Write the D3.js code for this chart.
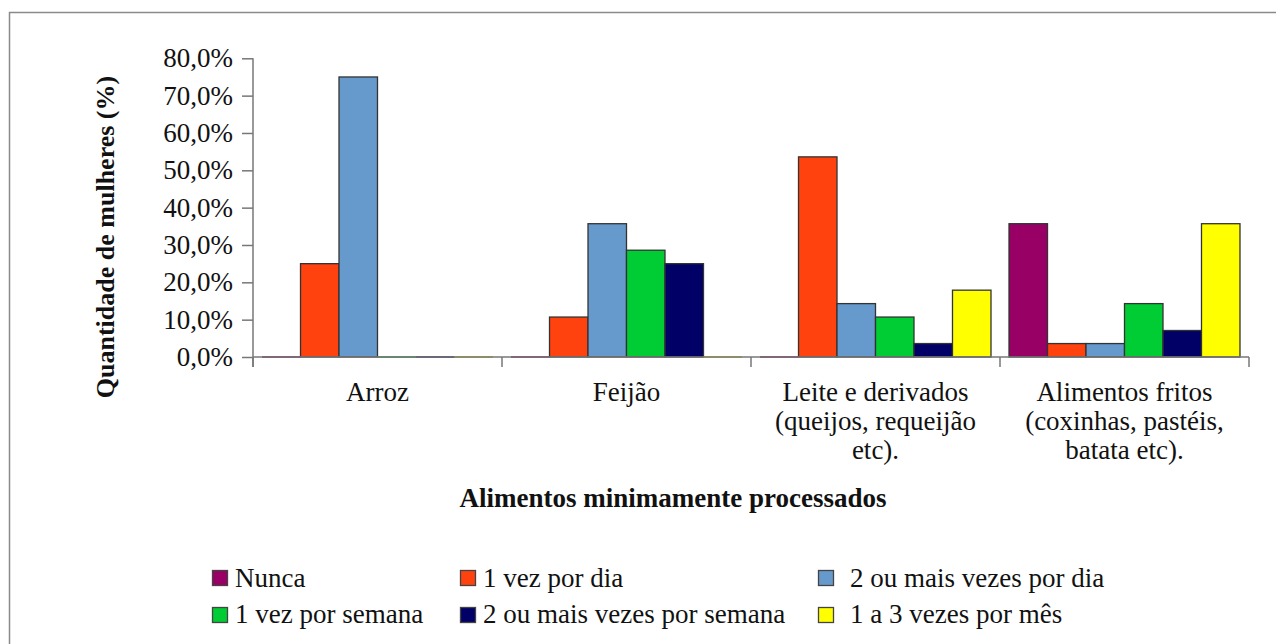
<!DOCTYPE html>
<html>
<head>
<meta charset="utf-8">
<script src="https://cdn.jsdelivr.net/npm/d3@7"></script>
<style>
  html, body { margin: 0; padding: 0; background: #fff; }
  svg { display: block; }
</style>
</head>
<body>
<svg id="chart" width="1276" height="644"></svg>
<script>
// ---- Data ----
const categories = [
  ["Arroz"],
  ["Feijão"],
  ["Leite e derivados", "(queijos, requeijão", "etc)."],
  ["Alimentos fritos", "(coxinhas, pastéis,", "batata etc)."]
];
const seriesNames = ["Nunca", "1 vez por dia", "2 ou mais vezes por dia", "1 vez por semana", "2 ou mais vezes por semana", "1 a 3 vezes por mês"];
const seriesColors = ["#990066", "#FF420E", "#6699CC", "#00CC33", "#000066", "#FFFF00"];
const nunca          = [0.0, 0.0, 0.0, 35.7];
const vezDia         = [25.0, 10.7, 53.6, 3.6];
const maisVezesDia   = [75.0, 35.7, 14.3, 3.6];
const vezSemana      = [0.0, 28.6, 10.7, 14.3];
const maisVezesSem   = [0.0, 25.0, 3.6, 7.1];
const umTresMes      = [0.0, 0.0, 17.9, 35.7];
const seriesValues = [nunca, vezDia, maisVezesDia, vezSemana, maisVezesSem, umTresMes];
const yTicks = [0, 10, 20, 30, 40, 50, 60, 70, 80];
const yTitle = "Quantidade de mulheres (%)";
const xTitle = "Alimentos minimamente processados";

(function () {
const FONT = "'Liberation Serif', 'Times New Roman', serif";
const svg = d3.select("#chart");
const pLeft = 253, pRight = 1249, pTop = 58.3, pBottom = 357;
const txt = (sel) => sel.style("font-family", FONT).attr("fill", "#111");

// frame
svg.append("rect").attr("x", 9.5).attr("y", 12.5).attr("width", 1400).attr("height", 800)
  .attr("fill", "none").attr("stroke", "#8a8a8a").attr("stroke-width", 1.5);

const x0 = d3.scaleBand().domain(d3.range(categories.length)).range([pLeft, pRight]).padding(0);
const x1 = d3.scaleBand().domain(d3.range(seriesNames.length)).range([0, x0.bandwidth()])
  .paddingInner(0).paddingOuter(0.234);
const y = d3.scaleLinear().domain([0, 80]).range([pBottom, pTop]);

// bars
const bars = [];
categories.forEach((c, ci) => {
  seriesValues.forEach((vals, si) => bars.push({ci, si, v: vals[ci]}));
});
const g = svg.append("g");
g.selectAll("rect.bar").data(bars.filter(d => d.v > 0)).join("rect")
  .attr("class", "bar")
  .attr("x", d => x0(d.ci) + x1(d.si))
  .attr("y", d => y(d.v))
  .attr("width", x1.bandwidth())
  .attr("height", d => y(0) - y(d.v))
  .attr("fill", d => seriesColors[d.si])
  .attr("stroke", "#333")
  .attr("stroke-width", 1.3);
g.selectAll("line.zero").data(bars.filter(d => d.v === 0)).join("line")
  .attr("class", "zero")
  .attr("x1", d => x0(d.ci) + x1(d.si))
  .attr("x2", d => x0(d.ci) + x1(d.si) + x1.bandwidth())
  .attr("y1", y(0)).attr("y2", y(0))
  .attr("stroke", d => d3.color(seriesColors[d.si]).darker(0.8))
  .attr("stroke-width", 1.5);

// y axis
const yAxis = d3.axisLeft(y).tickValues(yTicks).tickSize(11).tickPadding(9)
  .tickFormat(d => d.toFixed(1).replace(".", ",") + "%");
const ya = svg.append("g").attr("transform", `translate(${pLeft},0)`).call(yAxis);
ya.select(".domain").remove();
ya.append("line").attr("x1", 0).attr("x2", 0).attr("y1", pTop).attr("y2", pBottom + 10)
  .attr("stroke", "#777").attr("stroke-width", 1.5);
ya.selectAll(".tick line").attr("stroke", "#777").attr("stroke-width", 1.5);
ya.selectAll(".tick text").attr("font-size", 27).call(txt);

// x axis
const xa = svg.append("g");
xa.append("line").attr("x1", pLeft).attr("x2", pRight).attr("y1", pBottom).attr("y2", pBottom)
  .attr("stroke", "#777").attr("stroke-width", 1.5);
xa.selectAll("line.xt").data(d3.range(categories.length + 1)).join("line")
  .attr("class", "xt")
  .attr("x1", i => i < categories.length ? x0(i) : x0(i - 1) + x0.bandwidth())
  .attr("x2", i => i < categories.length ? x0(i) : x0(i - 1) + x0.bandwidth())
  .attr("y1", pBottom).attr("y2", pBottom + 10)
  .attr("stroke", "#777").attr("stroke-width", 1.5);
categories.forEach((lines, ci) => {
  const t = svg.append("text").attr("text-anchor", "middle").attr("font-size", 27)
    .attr("x", x0(ci) + x0.bandwidth() / 2).attr("y", 401).call(txt);
  lines.forEach((ln, li) => t.append("tspan").attr("x", x0(ci) + x0.bandwidth() / 2)
    .attr("dy", li === 0 ? 0 : 29).text(ln));
});

// axis titles
svg.append("text").attr("text-anchor", "middle").attr("font-size", 27).attr("font-weight", "bold")
  .attr("x", 673).attr("y", 507).text(xTitle).call(txt);
svg.append("text").attr("text-anchor", "middle").attr("font-size", 26).attr("font-weight", "bold")
  .attr("transform", "translate(114,237) rotate(-90)").text(yTitle).call(txt);

// legend
const legSwX = [212, 460, 818];
const legTxX = [235, 483, 850];
const legSwY = [570, 607];
const legBase = [587, 623];
seriesNames.forEach((name, i) => {
  const col = i % 3, row = Math.floor(i / 3);
  svg.append("rect").attr("x", legSwX[col] + 0.5).attr("y", legSwY[row] + 0.5)
    .attr("width", 15).attr("height", 15)
    .attr("fill", seriesColors[i]).attr("stroke", "#444").attr("stroke-width", 1.3);
  svg.append("text").attr("x", legTxX[col]).attr("y", legBase[row]).attr("font-size", 27)
    .text(name).call(txt);
});
})();
</script>
</body>
</html>
